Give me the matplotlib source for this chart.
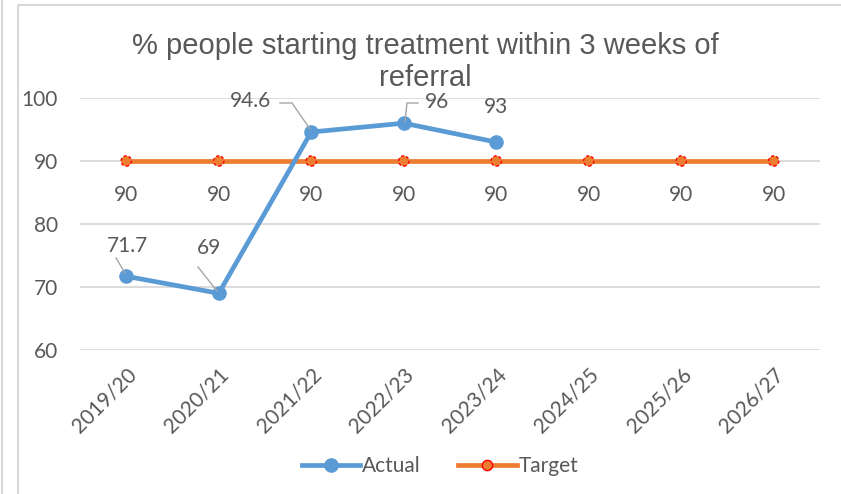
import matplotlib
matplotlib.use("Agg")
import matplotlib.pyplot as plt
from matplotlib.lines import Line2D

years = ["2019/20", "2020/21", "2021/22", "2022/23", "2023/24",
         "2024/25", "2025/26", "2026/27"]
actual = [71.7, 69, 94.6, 96, 93]
target = [90, 90, 90, 90, 90, 90, 90, 90]
title_lines = ["% people starting treatment within 3 weeks of", "referral"]

BLUE = "#5B9BD5"
ORANGE = "#ED7D31"
TEXT = "#595959"
GRID = "#D9D9D9"
TFONT = "Liberation Sans"
LFONT = "Lato"
FS = 15

fig = plt.figure(figsize=(8.41, 4.94), dpi=100)
W, H = 841, 494
ax = fig.add_axes([80 / W, 1 - 350 / H, 740 / W, (350 - 98) / H])

xs = list(range(len(years)))
ax.plot(xs[:len(actual)], actual, color=BLUE, lw=3.4, marker="o", ms=9.5,
        solid_capstyle="round", zorder=4)
ax.plot(xs, target, color=ORANGE, lw=3.4, zorder=3)
ax.scatter(xs, target, s=7.4 ** 2, facecolor=ORANGE, edgecolor="red",
           linewidths=1.0, linestyles=(0, (2.2, 1.6)), zorder=3.5)

ax.set_xlim(-0.5, len(years) - 0.5)
ax.set_ylim(60, 100)
ax.set_yticks([60, 70, 80, 90, 100])
ax.yaxis.grid(True, color=GRID, lw=1.3)
ax.set_axisbelow(True)
for s in ax.spines.values():
    s.set_visible(False)
ax.tick_params(length=0, labelcolor=TEXT, labelsize=FS)
ax.set_xticks(xs)
ax.set_xticklabels(years, rotation=45, ha="right", rotation_mode="anchor",
                   fontfamily=LFONT)
ax.tick_params(axis="x", pad=10)
ax.tick_params(axis="y", pad=16)
for t in ax.get_yticklabels():
    t.set_fontfamily(LFONT)

# target labels below each point
for x, v in zip(xs, target):
    ax.annotate(f"{v:g}", (x, v), xytext=(0, -34), textcoords="offset pixels",
                ha="center", va="center", fontsize=FS, color=TEXT,
                fontfamily=LFONT)

# actual labels, placed clear of the line
offsets = [(1, 30), (-10, 45), (-61, 31), (33, 21), (0, 35)]
for i, (v, off) in enumerate(zip(actual, offsets)):
    ax.annotate(f"{v:g}", (i, v), xytext=off, textcoords="offset pixels",
                ha="center", va="center", fontsize=FS, color=TEXT,
                fontfamily=LFONT)

leader = dict(color="#A6A6A6", lw=1.0)
def seg(pts):
    fx = [p[0] / W for p in pts]
    fy = [1 - p[1] / H for p in pts]
    fig.add_artist(Line2D(fx, fy, **leader))
seg([(116, 258), (125, 273)])
seg([(198, 267), (217, 291)])
seg([(280, 103), (292, 103), (310, 129)])
seg([(418, 103), (407, 103), (405, 121)])

# two-line chart title
for line, base_y in zip(title_lines, [54, 86]):
    fig.text(425 / W, 1 - base_y / H, line, ha="center", va="baseline",
             fontsize=21, color=TEXT, fontfamily=TFONT)

# legend
handles = [
    Line2D([], [], color=BLUE, lw=3.4, marker="o", ms=9.5),
    Line2D([], [], color=ORANGE, lw=3.4, marker="o", ms=7.4,
           markerfacecolor=ORANGE, markeredgecolor="red", markeredgewidth=1.0),
]
leg = fig.legend(handles, ["Actual", "Target"], loc="center",
                 bbox_to_anchor=(440 / W, 1 - 466 / H), ncol=2, frameon=False,
                 fontsize=FS, handlelength=2.8, handletextpad=0.1,
                 columnspacing=1.8)
for t in leg.get_texts():
    t.set_color(TEXT)
    t.set_fontfamily(LFONT)

# chart frame
fig.add_artist(Line2D([1.5 / W, 1.5 / W], [0, 1], color="#D9D9D9", lw=1.5))
fig.add_artist(Line2D([17.5 / W, 17.5 / W, 1], [0, 1 - 5.5 / H, 1 - 5.5 / H],
                      color="#D9D9D9", lw=1.5))

fig.savefig("out.png", dpi=100)
